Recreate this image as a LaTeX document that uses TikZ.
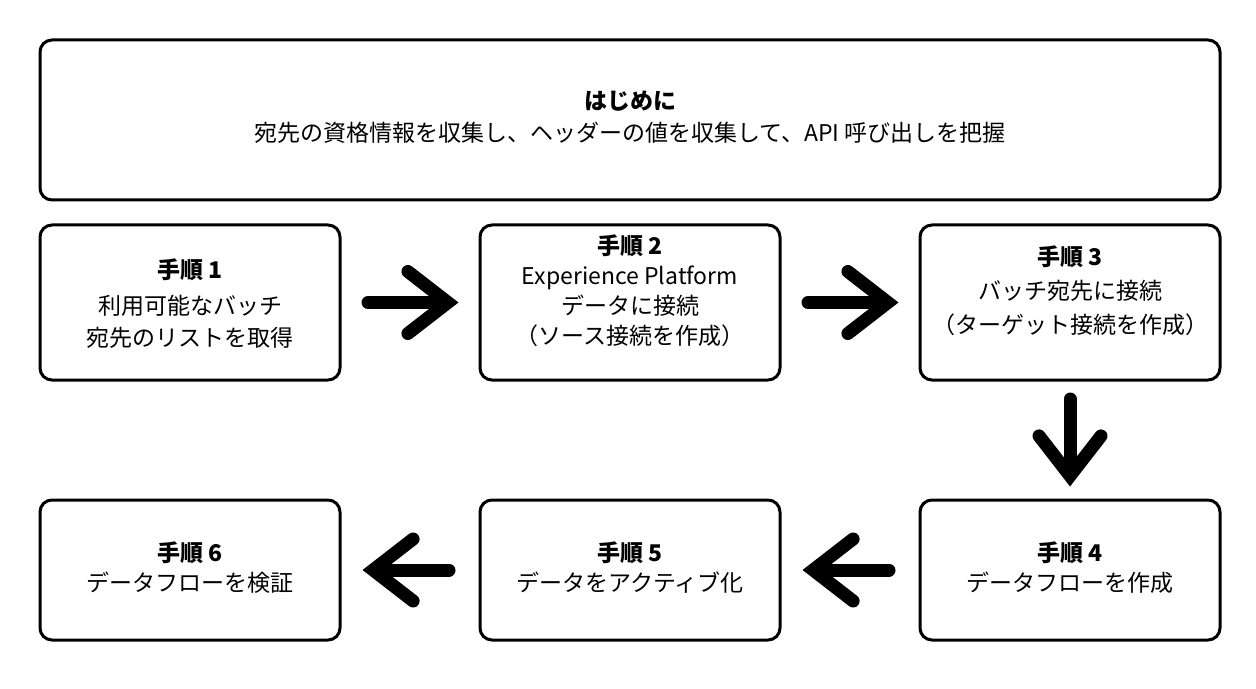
\documentclass[tikz,border=0pt]{standalone}
\usepackage{fontspec}
\setmainfont{Noto Sans CJK JP}
\usetikzlibrary{arrows.meta}

\tikzset{
  box/.style={draw, line width=1.5pt, rounded corners=6pt, inner sep=0pt},
  boxtext/.style={align=center, inner sep=0pt, font=\fontsize{11.5}{15}\selectfont},
  bigarrow/.style={line width=6.5pt, line cap=round,
    -{Straight Barb[length=20pt, width=31pt, line cap=round, line join=miter]}},
}

\begin{document}
\begin{tikzpicture}[x=0.5pt, y=-0.5pt]
    \useasboundingbox (0,0) rectangle (1256,689);

    % boxes
    \node[box, minimum width=590pt, minimum height=80pt] (intro) at (630,120) {};
    \node[box, minimum width=150pt, minimum height=77.5pt] (s1) at (190,302.5) {};
    \node[box, minimum width=150pt, minimum height=77.5pt] (s2) at (630,302.5) {};
    \node[box, minimum width=150pt, minimum height=77.5pt] (s3) at (1070,302.5) {};
    \node[box, minimum width=150pt, minimum height=70pt] (s4) at (1070,570) {};
    \node[box, minimum width=150pt, minimum height=70pt] (s5) at (630,570) {};
    \node[box, minimum width=150pt, minimum height=70pt] (s6) at (190,570) {};

    % texts
    \node[boxtext] (introt) at (630,117) {\textbf{はじめに}\\[1pt]
        宛先の資格情報を収集し、ヘッダーの値を収集して、API 呼び出しを把握};
    \node[boxtext] (s1t) at (190,304) {\textbf{手順 1}\\[3pt]
        利用可能なバッチ\\[1pt]宛先のリストを取得};
    \node[boxtext] (s2t) at (630,290.5) {\textbf{手順 2}\\
        Experience Platform\\データに接続\\（ソース接続を作成）};
    \node[boxtext] (s3t) at (1070,290.5) {\textbf{手順 3}\\[2pt]
        バッチ宛先に接続\\[2pt]（ターゲット接続を作成）};
    \node[boxtext] (s4t) at (1070,567.5) {\textbf{手順 4}\\データフローを作成};
    \node[boxtext] (s5t) at (630,567.5) {\textbf{手順 5}\\データをアクティブ化};
    \node[boxtext] (s6t) at (190,567.5) {\textbf{手順 6}\\データフローを検証};

    % arrows
    \draw[bigarrow, shorten <=13.25pt, shorten >=10pt] (s1) -- (s2);
    \draw[bigarrow, shorten <=13.25pt, shorten >=10pt] (s2) -- (s3);
    \draw[bigarrow, shorten <=8.75pt, shorten >=6pt] (s3) -- (s4);
    \draw[bigarrow, shorten <=14.75pt, shorten >=10.5pt] (s4) -- (s5);
    \draw[bigarrow, shorten <=14.75pt, shorten >=10.5pt] (s5) -- (s6);
\end{tikzpicture}
\end{document}
